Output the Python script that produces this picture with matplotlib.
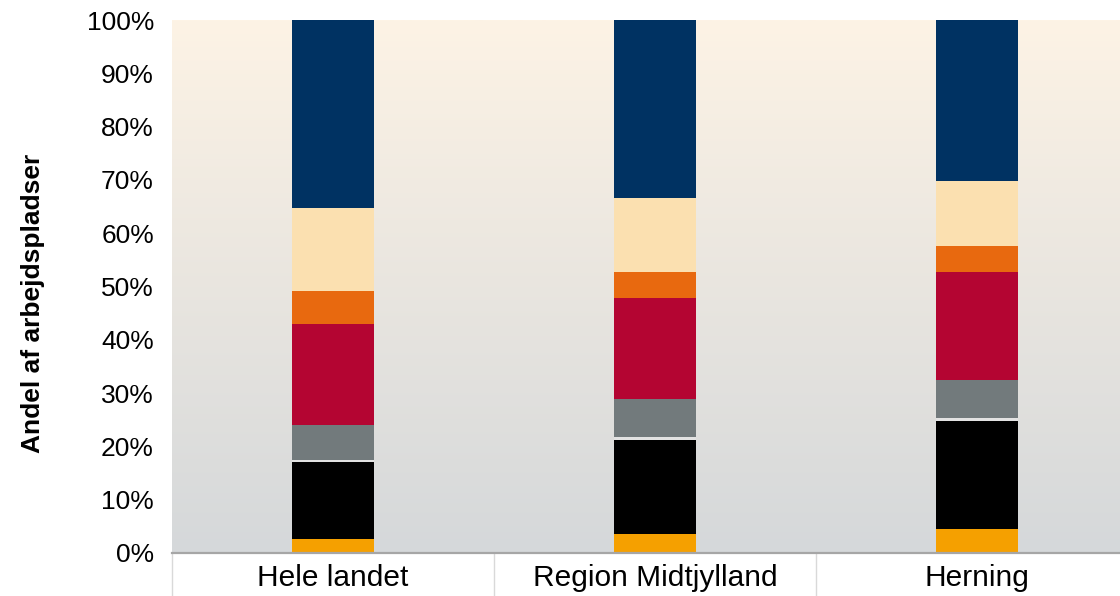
import numpy as np
import matplotlib.pyplot as plt
from matplotlib.colors import LinearSegmentedColormap

plt.rcParams["font.family"] = ["Liberation Sans", "DejaVu Sans"]

categories = ["Hele landet", "Region Midtjylland", "Herning"]

# segment shares (%), bottom to top
seg_yellow = [2.6, 3.6, 4.5]
seg_black = [14.5, 17.6, 20.3]
seg_gap = [0.3, 0.6, 0.5]
seg_gray = [6.6, 7.1, 7.1]
seg_red = [19.0, 18.9, 20.3]
seg_orange = [6.2, 4.9, 4.9]
seg_cream = [15.5, 13.9, 12.2]
seg_navy = [35.3, 33.4, 30.2]

segments = [seg_yellow, seg_black, seg_gap, seg_gray, seg_red,
            seg_orange, seg_cream, seg_navy]
colors = ["#f5a000", "#000000", "#e2e2e2", "#727a7c", "#b40532",
          "#e8690f", "#fbe0b0", "#003262"]

fig = plt.figure(figsize=(11.2, 5.96), dpi=100)
ax = fig.add_axes([172 / 1120, 43 / 596, 1 - 172 / 1120, 533 / 596])

# background gradient: cream at top, grey at bottom
bg = LinearSegmentedColormap.from_list("bg", ["#d5d8da", "#fdf3e5"])
grad = np.linspace(0, 1, 256).reshape(-1, 1)
xmax = -0.5 + (1120 - 172) / 322
ax.imshow(grad, cmap=bg, aspect="auto", origin="lower",
          extent=[-0.5, xmax, 0, 100], zorder=0)

x = np.arange(len(categories))
bottom = np.zeros(len(categories))
for vals, c in zip(segments, colors):
    ax.bar(x, vals, bottom=bottom, width=0.255, color=c, zorder=2)
    bottom += np.array(vals)

ax.set_yticks(np.arange(0, 101, 10))
ax.set_yticklabels([f"{v}%" for v in range(0, 101, 10)], fontsize=19)
ax.tick_params(axis="y", length=0, pad=13)

# category separators below the axis
ax.set_xticks([-0.5, 0.5, 1.5])
ax.set_xticklabels([])
ax.tick_params(axis="x", which="major", length=31, width=1, color="#d9d9d9")
ax.set_xticks(x, minor=True)
ax.set_xticklabels(categories, minor=True, fontsize=21.5)
ax.tick_params(axis="x", which="minor", length=0, pad=8)

ax.set_xlim(-0.5, xmax)
ax.set_ylim(0, 100)

for s in ["top", "right", "left"]:
    ax.spines[s].set_visible(False)
ax.spines["bottom"].set_color("#a6a6a6")
ax.spines["bottom"].set_linewidth(1.6)
ax.spines["bottom"].set_zorder(3)

ax.set_ylabel("Andel af arbejdspladser", fontsize=19, fontweight="bold",
              labelpad=30)
ax.yaxis.label.set_y(0.469)

fig.savefig("out.png", dpi=100)
